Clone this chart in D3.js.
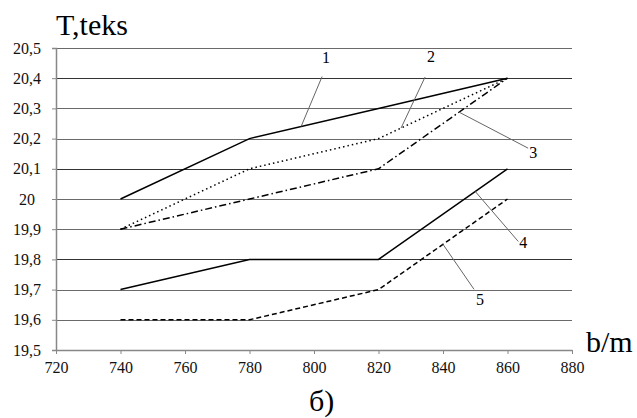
<!DOCTYPE html>
<html>
<head>
<meta charset="utf-8">
<script src="https://cdn.jsdelivr.net/npm/d3@7"></script>
<style>
  body { margin: 0; background: #fff; }
  svg text { font-family: 'Liberation Serif', Tinos, 'Times New Roman', 'DejaVu Serif', serif; }
</style>
</head>
<body>
<div id="chart"></div>
<script>
// b/m values on x
const widths = [740, 780, 820, 860]
// T, teks for each curve
const curve1 = [20.0, 20.2, 20.3, 20.4]
const curve2 = [19.9, 20.1, 20.2, 20.4]
const curve3 = [19.9, 20.0, 20.1, 20.4]
const curve4 = [19.7, 19.8, 19.8, 20.1]
const curve5 = [19.6, 19.6, 19.7, 20.0]
const curveNames = ['1', '2', '3', '4', '5']
const xTicks = [720, 740, 760, 780, 800, 820, 840, 860, 880]
const yTicks = [19.5, 19.6, 19.7, 19.8, 19.9, 20.0, 20.1, 20.2, 20.3, 20.4, 20.5]
// where each number's leader touches its curve (b/m)
const leaderAt = [796, 827, 845, 850, 840]

const width = 637
const height = 418

const series = [
  { values: curve1, dash: null },
  { values: curve2, dash: '1.5,3' },
  { values: curve3, dash: '7,3,1.5,3' },
  { values: curve4, dash: null },
  { values: curve5, dash: '5,3' }
]
// leader end offsets and label offsets, px
const leaderOff = [[21, -50, 4, -14], [24, -51, 6, -15], [69, 36, 5, 10], [43, 50, 5, 7], [31, 45, 6, 16]]

const svg = d3.select('#chart').append('svg')
  .attr('width', width)
  .attr('height', height)

const x = d3.scaleLinear().domain([720, 880]).range([56, 572])
const y = d3.scaleLinear().domain([19.5, 20.5]).range([350, 48])

const fmt = v => {
  const r = Math.round(v * 10)
  return r % 10 === 0 ? String(r / 10) : (r / 10).toFixed(1).replace('.', ',')
}

// grid lines
svg.append('g')
  .selectAll('line')
  .data(yTicks.slice(1))
  .enter()
  .append('line')
  .attr('x1', x(720))
  .attr('x2', x(880))
  .attr('y1', d => Math.round(y(d)) + 0.5)
  .attr('y2', d => Math.round(y(d)) + 0.5)
  .attr('stroke', (d, i) => (i % 3 === 2 ? '#333' : '#6a6a6a'))
  .attr('stroke-width', 1.2)

// y axis
const yAxis = svg.append('g')
  .attr('transform', `translate(${x(720)},0)`)
  .call(d3.axisLeft(y).tickValues(yTicks).tickSize(4).tickFormat(fmt))
yAxis.attr('font-family', null)
yAxis.select('.domain').attr('stroke', '#888').attr('stroke-width', 1.5)
yAxis.selectAll('.tick line').attr('stroke', '#888')
yAxis.selectAll('.tick text')
  .attr('x', -29)
  .attr('text-anchor', 'middle')
  .attr('font-size', 16)
  .attr('fill', '#111')

// x axis
const xAxis = svg.append('g')
  .attr('transform', `translate(0,${y(19.5)})`)
  .call(d3.axisBottom(x).tickValues(xTicks).tickSize(4).tickSizeOuter(0).tickPadding(8))
xAxis.attr('font-family', null)
xAxis.select('.domain').attr('stroke', '#888').attr('stroke-width', 1.5)
xAxis.selectAll('.tick line').attr('stroke', '#888')
xAxis.selectAll('.tick text')
  .attr('font-size', 16)
  .attr('fill', '#111')

// curves
const line = d3.line()
  .x((d, i) => x(widths[i]))
  .y(d => y(d))

svg.append('g')
  .selectAll('path')
  .data(series)
  .enter()
  .append('path')
  .attr('d', d => line(d.values))
  .attr('fill', 'none')
  .attr('stroke', '#000')
  .attr('stroke-width', 1.5)
  .attr('stroke-dasharray', d => d.dash)

// value on a curve at b/m = v
const valueAt = (vals, v) => d3.scaleLinear().domain(widths).range(vals)(v)

// leaders and curve numbers
const notes = svg.append('g')
series.forEach((s, i) => {
  const px = x(leaderAt[i])
  const py = y(valueAt(s.values, leaderAt[i]))
  const o = leaderOff[i]
  notes.append('line')
    .attr('x1', px).attr('y1', py)
    .attr('x2', px + o[0]).attr('y2', py + o[1])
    .attr('stroke', '#666')
    .attr('stroke-width', 1)
  notes.append('text')
    .attr('x', px + o[0] + o[2])
    .attr('y', py + o[1] + o[3])
    .attr('text-anchor', 'middle')
    .attr('font-size', 16)
    .text(curveNames[i])
})

// axis titles
svg.append('text')
  .attr('x', x(720))
  .attr('y', 35)
  .attr('font-size', 30)
  .text('T,teks')

svg.append('text')
  .attr('x', 586)
  .attr('y', 352)
  .attr('font-size', 30)
  .text('b/m')

svg.append('text')
  .attr('x', 309)
  .attr('y', 411)
  .attr('font-size', 30)
  .text('б)')
</script>
</body>
</html>
